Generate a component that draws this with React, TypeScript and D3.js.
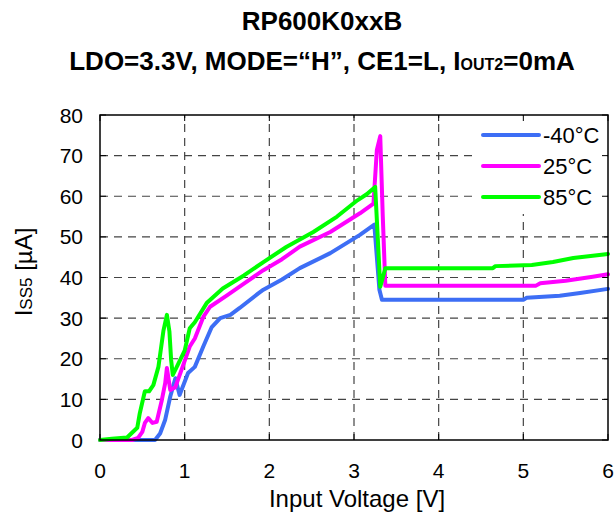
import React from "react";
import * as d3 from "d3";

const xTicks = [0, 1, 2, 3, 4, 5, 6];
const yTicks = [0, 10, 20, 30, 40, 50, 60, 70, 80];

const blueV = [0, 0.65, 0.71, 0.77, 0.83, 0.89, 0.94, 1.04, 1.12, 1.22, 1.32, 1.42, 1.54, 1.65, 1.87, 1.93, 2.15, 2.36, 2.72, 3.07, 3.24, 3.3, 3.33, 4.0, 5.0, 5.04, 5.43, 5.67, 6.0];
const blueI = [0, 0, 1.6, 5, 10.7, 15.2, 11.1, 16.5, 18, 23, 27.8, 30, 30.8, 32.5, 36.1, 37, 39.5, 42.3, 46, 50.5, 53, 37, 34.5, 34.5, 34.5, 35, 35.5, 36.2, 37.2];

const pinkV = [0, 0.38, 0.45, 0.5, 0.53, 0.57, 0.62, 0.67, 0.73, 0.77, 0.79, 0.83, 0.89, 0.97, 1.06, 1.12, 1.22, 1.3, 1.5, 1.7, 1.93, 2.15, 2.36, 2.72, 3.07, 3.23, 3.27, 3.31, 3.34, 3.37, 4.0, 5.15, 5.2, 5.5, 5.82, 6.0];
const pinkI = [0, 0, 0.5, 2, 4.2, 5.4, 4.2, 4.5, 9.8, 14, 17.7, 12.3, 13, 17.7, 23, 25, 30.3, 32.8, 35.6, 38.5, 41.8, 44.5, 47.6, 51.2, 55.8, 58.2, 71.4, 74.8, 55, 38, 38, 38, 38.6, 39.2, 40.2, 40.8];

const greenV = [0, 0.14, 0.32, 0.44, 0.47, 0.53, 0.58, 0.63, 0.69, 0.75, 0.79, 0.82, 0.84, 0.86, 0.93, 1.0, 1.06, 1.12, 1.26, 1.45, 1.7, 1.93, 2.2, 2.52, 2.8, 3.04, 3.15, 3.25, 3.31, 3.37, 4.0, 4.64, 4.67, 5.1, 5.35, 5.59, 6.0];
const greenI = [0, 0.3, 0.6, 3, 6.6, 12, 12, 13.5, 18, 27, 30.8, 26.7, 19.7, 16, 19, 22, 27.5, 29, 33.7, 37.3, 40.5, 43.8, 47.5, 51.2, 55, 59, 60.5, 62.3, 37.7, 42.3, 42.3, 42.3, 42.8, 43.1, 43.8, 44.8, 45.8];

const seriesNames = ["-40°C", "25°C", "85°C"];
const seriesColors = ["#3D6EF5", "#FF00FF", "#00FF00"];

const FONT = "'Liberation Sans', Arial, sans-serif";

export default function App() {
  const W = 614, H = 519;
  const x = d3.scaleLinear().domain([0, 6]).range([100, 608]);
  const y = d3.scaleLinear().domain([0, 80]).range([440, 115]);
  const line = d3.line<[number, number]>().x(d => x(d[0])).y(d => y(d[1]));
  const series = [
    blueV.map((v, i) => [v, blueI[i]] as [number, number]),
    pinkV.map((v, i) => [v, pinkI[i]] as [number, number]),
    greenV.map((v, i) => [v, greenI[i]] as [number, number]),
  ];
  const legendY = [135, 166, 197];
  return (
    <svg width={W} height={H} style={{ display: "block", position: "absolute", left: 0, top: 0 }} fontFamily={FONT}>
      <rect x={0} y={0} width={W} height={H} fill="#fff" />
      <text x={322} y={30} textAnchor="middle" fontSize={26} fontWeight="bold">RP600K0xxB</text>
      <text x={322} y={70} textAnchor="middle" fontSize={26} fontWeight="bold">
        LDO=3.3V, MODE=“H”, CE1=L, I<tspan fontSize={16}>OUT2</tspan>=0mA
      </text>
      {/* grid */}
      {xTicks.slice(1, -1).map(t => (
        <line key={"gx" + t} x1={x(t)} x2={x(t)} y1={y(0)} y2={y(80)} stroke="#444" strokeWidth={1.2} strokeDasharray="8,6" />
      ))}
      {yTicks.slice(1, -1).map(t => (
        <line key={"gy" + t} x1={x(0)} x2={x(6)} y1={y(t)} y2={y(t)} stroke="#444" strokeWidth={1.2} strokeDasharray="8,6" />
      ))}
      {/* legend background */}
      <rect x={475} y={116} width={132} height={98} fill="#fff" />
      {/* ticks */}
      {xTicks.map(t => (
        <g key={"tx" + t}>
          <line x1={x(t)} x2={x(t)} y1={y(0)} y2={y(0) - 6} stroke="#000" strokeWidth={1} />
          <line x1={x(t)} x2={x(t)} y1={y(80)} y2={y(80) + 6} stroke="#000" strokeWidth={1} />
          <text x={x(t)} y={y(0) + 38} textAnchor="middle" fontSize={21}>{t}</text>
        </g>
      ))}
      {yTicks.map(t => (
        <g key={"ty" + t}>
          <line x1={x(0)} x2={x(0) + 6} y1={y(t)} y2={y(t)} stroke="#000" strokeWidth={1} />
          <line x1={x(6)} x2={x(6) - 6} y1={y(t)} y2={y(t)} stroke="#000" strokeWidth={1} />
          <text x={x(0) - 17} y={y(t) + 7.5} textAnchor="end" fontSize={21}>{t}</text>
        </g>
      ))}
      {/* series */}
      {series.map((s, i) => (
        <path key={"s" + i} d={line(s) || ""} fill="none" stroke={seriesColors[i]} strokeWidth={4} strokeLinejoin="round" strokeLinecap="round" />
      ))}
      {/* frame */}
      <rect x={x(0)} y={y(80)} width={x(6) - x(0)} height={y(0) - y(80)} fill="none" stroke="#000" strokeWidth={1.5} />
      {/* legend */}
      {seriesNames.map((n, i) => (
        <g key={"lg" + i}>
          <line x1={483} x2={539} y1={legendY[i]} y2={legendY[i]} stroke={seriesColors[i]} strokeWidth={4} strokeLinecap="round" />
          <text x={543} y={legendY[i] + 8} fontSize={22}>{n}</text>
        </g>
      ))}
      {/* axis titles */}
      <text x={357} y={507} textAnchor="middle" fontSize={24}>Input Voltage [V]</text>
      <text transform="translate(32,272) rotate(-90)" textAnchor="middle" fontSize={24}>
        I<tspan fontSize={17}>SS5</tspan> [µA]
      </text>
    </svg>
  );
}
